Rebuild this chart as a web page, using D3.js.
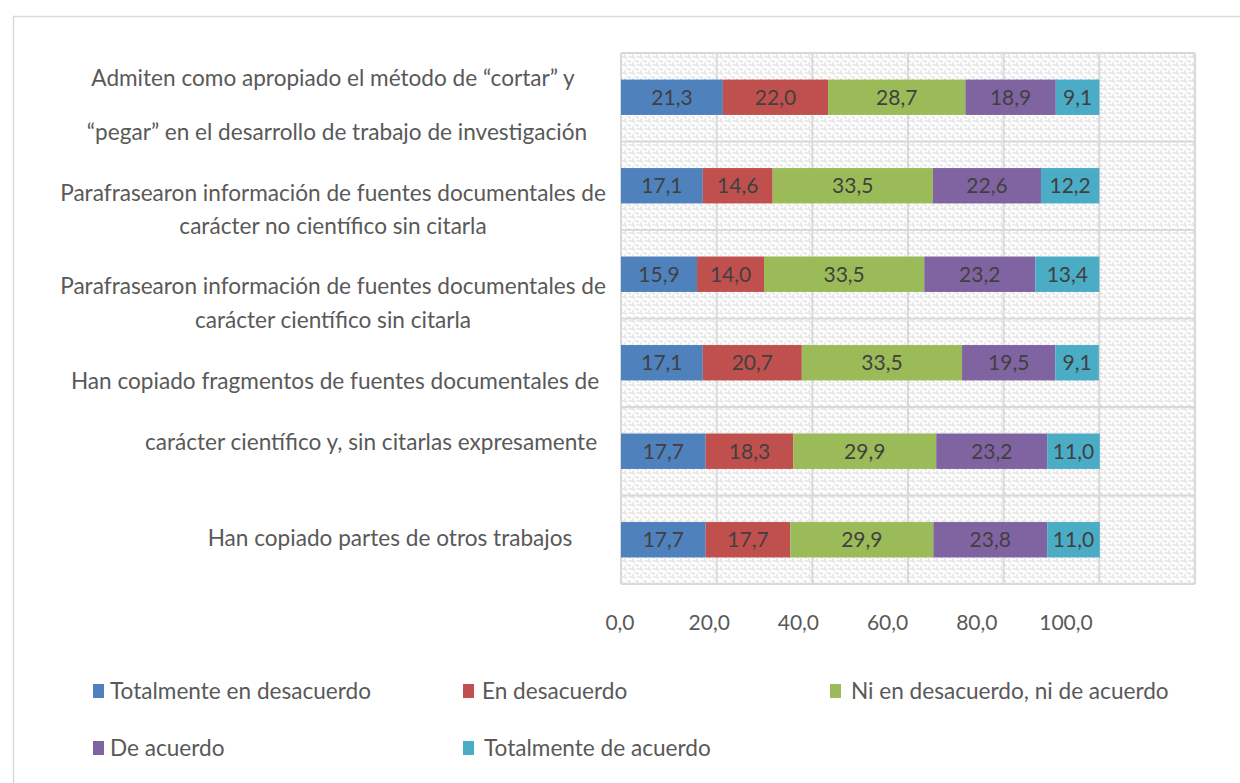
<!DOCTYPE html>
<html>
<head>
<meta charset="utf-8">
<script src="https://cdn.jsdelivr.net/npm/d3@7"></script>
<style>
  html, body { margin: 0; padding: 0; background: #ffffff; }
  svg { display: block; }
  text { font-family: Lato, "Open Sans", sans-serif; }
</style>
</head>
<body>
<svg id="chart" width="1240" height="783"></svg>
<script>
// ---------- DATA ----------
const categories = [
  ["Admiten como apropiado el método de “cortar” y", "“pegar” en el desarrollo de trabajo de investigación"],
  ["Parafrasearon información de fuentes documentales de", "carácter no científico sin citarla"],
  ["Parafrasearon información de fuentes documentales de", "carácter científico sin citarla"],
  ["Han copiado fragmentos de fuentes documentales de"],
  ["carácter científico y, sin citarlas expresamente"],
  ["Han copiado partes de otros trabajos"]
];
const seriesNames = ["Totalmente en desacuerdo", "En desacuerdo", "Ni en desacuerdo, ni de acuerdo", "De acuerdo", "Totalmente de acuerdo"];
const totalmenteEnDesacuerdo = [21.3, 17.1, 15.9, 17.1, 17.7, 17.7];
const enDesacuerdo           = [22.0, 14.6, 14.0, 20.7, 18.3, 17.7];
const niNi                   = [28.7, 33.5, 33.5, 33.5, 29.9, 29.9];
const deAcuerdo              = [18.9, 22.6, 23.2, 19.5, 23.2, 23.8];
const totalmenteDeAcuerdo    = [9.1, 12.2, 13.4, 9.1, 11.0, 11.0];
const tickValues = [0, 20, 40, 60, 80, 100];
const gridValues = [0, 20, 40, 60, 80, 100, 120];

// ---------- STYLE / LAYOUT ----------
const colors = ["#4f81bd", "#c0504d", "#9bbb59", "#8064a2", "#4bacc6"];
const labelLayout = [
  [{x: 333, dy: -19}, {x: 337, dy: 35}],
  [{x: 333, dy: 7}, {x: 333, dy: 40}],
  [{x: 333, dy: 12}, {x: 333, dy: 46}],
  [{x: 335, dy: 18}],
  [{x: 371, dy: -9}],
  [{x: 390, dy: -2}]
];
const legendLayout = [
  {x: 93, y: 691, tx: 17}, {x: 463, y: 691, tx: 19}, {x: 830, y: 691, tx: 21},
  {x: 93, y: 748, tx: 17}, {x: 463, y: 748, tx: 21}
];

const series = [totalmenteEnDesacuerdo, enDesacuerdo, niNi, deAcuerdo, totalmenteDeAcuerdo];
const rows = categories.map((c, i) => {
  const obj = {idx: i};
  series.forEach((s, k) => obj["s" + k] = s[i]);
  return obj;
});
const keys = series.map((s, k) => "s" + k);
const stacked = d3.stack().keys(keys)(rows);

const svg = d3.select("#chart");
const numSize = 21;
const textSize = 22.6;

svg.append("rect").attr("x", 13.5).attr("y", 16.5).attr("width", 1300).attr("height", 900)
  .attr("fill", "#fff").attr("stroke", "#d9d9d9").attr("stroke-width", 1.5);

const defs = svg.append("defs");
const pat = defs.append("pattern").attr("id", "hatch").attr("patternUnits", "userSpaceOnUse")
  .attr("width", 8).attr("height", 8);
pat.append("rect").attr("width", 8).attr("height", 8).attr("fill", "#ffffff");
pat.append("path").attr("d", "M0.5,0.5 L2.5,2.5 M4.5,4.5 L6.5,6.5 M6.5,0.5 L7.5,1.5 M0.5,6.5 L1.5,7.5 M4.5,0.5 L5.2,1.2 M2.5,4.5 L3.2,5.2")
  .attr("stroke", "#d2d2d2").attr("stroke-width", 1.2);

const x = d3.scaleLinear().domain([0, 120]).range([621, 1195]);
const xLabel = d3.scaleLinear().domain([0, 100]).range([620, 1066]);
const y = d3.scaleBand().domain(d3.range(categories.length)).range([53, 584])
  .paddingInner(0.6).paddingOuter(0.3);
const step = y.step();
const plotTop = y.range()[0], plotBottom = y.range()[1];

svg.append("rect").attr("x", x(0)).attr("y", plotTop).attr("width", x(120) - x(0)).attr("height", plotBottom - plotTop)
  .attr("fill", "url(#hatch)");

const grid = svg.append("g").attr("stroke", "#d9d9d9").attr("stroke-width", 2);
gridValues.forEach(v => {
  grid.append("line").attr("x1", x(v)).attr("x2", x(v)).attr("y1", plotTop).attr("y2", plotBottom);
});
d3.range(categories.length + 1).forEach(i => {
  const yy = plotTop + i * step;
  grid.append("line").attr("x1", x(0)).attr("x2", x(120)).attr("y1", yy).attr("y2", yy);
});

const layers = svg.append("g").selectAll("g").data(stacked).join("g")
  .attr("fill", (d, k) => colors[k]);
layers.selectAll("rect").data(d => d).join("rect")
  .attr("x", d => x(d[0]))
  .attr("y", d => y(d.data.idx))
  .attr("width", d => x(d[1]) - x(d[0]))
  .attr("height", y.bandwidth());

const fmt = v => v.toFixed(1).replace(".", ",");
const vl = svg.append("g");
stacked.forEach((layer, k) => {
  layer.forEach(d => {
    vl.append("text")
      .attr("x", (x(d[0]) + x(d[1])) / 2)
      .attr("y", y(d.data.idx) + y.bandwidth() / 2)
      .attr("dy", "0.36em")
      .attr("text-anchor", "middle")
      .attr("fill", "#404040")
      .attr("font-size", numSize)
      .text(fmt(d[1] - d[0]));
  });
});

const ax = svg.append("g");
tickValues.forEach(v => {
  ax.append("text").attr("x", xLabel(v)).attr("y", 622).attr("dy", "0.36em")
    .attr("text-anchor", "middle").attr("fill", "#595959").attr("font-size", numSize)
    .text(fmt(v));
});

const cl = svg.append("g");
categories.forEach((lines, i) => {
  const cy = y(i) + y.bandwidth() / 2;
  lines.forEach((ln, j) => {
    const L = labelLayout[i][j];
    cl.append("text").attr("x", L.x).attr("y", cy + L.dy).attr("dy", "0.36em")
      .attr("text-anchor", "middle").attr("fill", "#595959").attr("font-size", textSize)
      .text(ln);
  });
});

const lg = svg.append("g");
seriesNames.forEach((name, k) => {
  const L = legendLayout[k];
  lg.append("rect").attr("x", L.x).attr("y", L.y - 7).attr("width", 11).attr("height", 14)
    .attr("fill", colors[k]);
  lg.append("text").attr("x", L.x + L.tx).attr("y", L.y).attr("dy", "0.36em")
    .attr("fill", "#595959").attr("font-size", textSize).text(name);
});
</script>
</body>
</html>
